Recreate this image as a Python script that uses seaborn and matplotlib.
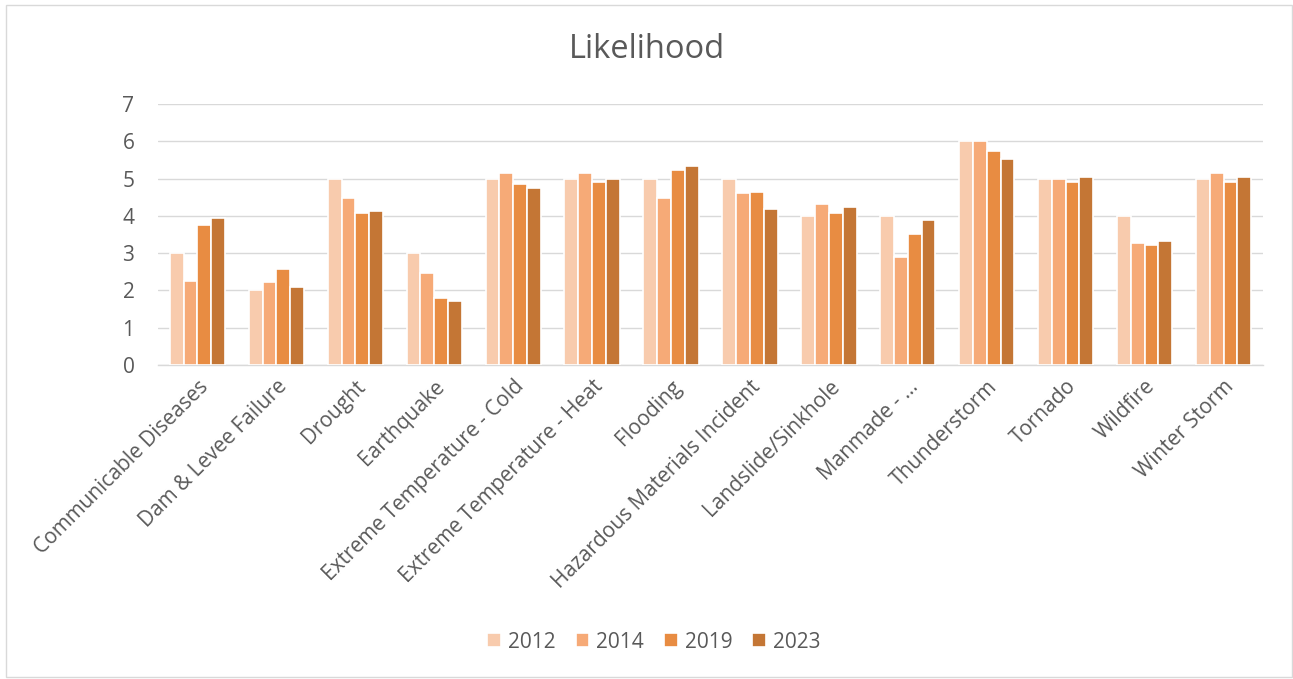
import matplotlib
matplotlib.use("Agg")
import matplotlib.pyplot as plt
import seaborn as sns
import pandas as pd
from matplotlib.patches import Rectangle

categories = ["Communicable Diseases", "Dam & Levee Failure", "Drought", "Earthquake",
              "Extreme Temperature - Cold", "Extreme Temperature - Heat", "Flooding",
              "Hazardous Materials Incident", "Landslide/Sinkhole", "Manmade - ...",
              "Thunderstorm", "Tornado", "Wildfire", "Winter Storm"]
years = ["2012", "2014", "2019", "2023"]
v2012 = [3.0, 2.0, 5.0, 3.0, 5.0, 5.0, 5.0, 5.0, 4.0, 4.0, 6.0, 5.0, 4.0, 5.0]
v2014 = [2.25, 2.23, 4.49, 2.48, 5.16, 5.16, 4.49, 4.62, 4.32, 2.90, 6.0, 5.0, 3.26, 5.16]
v2019 = [3.75, 2.57, 4.07, 1.79, 4.86, 4.92, 5.22, 4.63, 4.09, 3.51, 5.75, 4.90, 3.22, 4.92]
v2023 = [3.94, 2.08, 4.13, 1.71, 4.74, 4.98, 5.34, 4.18, 4.24, 3.89, 5.53, 5.03, 3.33, 5.03]
colors = ["#F8CBAD", "#F6AA77", "#E88C42", "#C47635"]

rows = []
for y, vals in zip(years, [v2012, v2014, v2019, v2023]):
    for c, v in zip(categories, vals):
        rows.append({"Hazard": c, "Year": y, "Value": v})
df = pd.DataFrame(rows)

sns.set_theme(style="white")
plt.rcParams["font.family"] = ["Open Sans", "DejaVu Sans"]
text_color = "#595959"
grid_color = "#D9D9D9"

fig = plt.figure(figsize=(12.93, 6.79), dpi=100)
ax = fig.add_axes([158 / 1293, 1 - 365 / 679, (1263 - 158) / 1293, (365 - 104) / 679])

sns.barplot(data=df, x="Hazard", y="Value", hue="Year", order=categories, hue_order=years,
            palette=colors, saturation=1, width=0.7, edgecolor="white", linewidth=1.2,
            ax=ax, zorder=3)

ax.set_ylim(0, 7)
ax.set_yticks(range(0, 8))
ax.set_xlim(-0.5, len(categories) - 0.5)
ax.yaxis.grid(True, color=grid_color, linewidth=1.0, zorder=0)
ax.set_axisbelow(True)
for s in ["top", "right", "left"]:
    ax.spines[s].set_visible(False)
ax.spines["bottom"].set_color(grid_color)
ax.spines["bottom"].set_linewidth(1.0)
ax.set_xlabel("")
ax.set_ylabel("")
ax.tick_params(axis="y", length=0, pad=17, labelsize=15, labelcolor=text_color)
ax.tick_params(axis="x", length=0, pad=8, labelsize=15, labelcolor=text_color)
for lab in ax.get_xticklabels():
    lab.set_rotation(45)
    lab.set_ha("right")
    lab.set_rotation_mode("anchor")

fig.text(0.5, 1 - 50 / 679, "Likelihood", ha="center", va="center", fontsize=23.5, color=text_color)

handles, labels = ax.get_legend_handles_labels()
if ax.legend_:
    ax.legend_.remove()
fig.legend(handles, labels, loc="center", bbox_to_anchor=(654 / 1293, 1 - 642 / 679), ncol=4,
           frameon=False, fontsize=15, labelcolor=text_color, handlelength=0.65, handleheight=0.65,
           handletextpad=0.35, columnspacing=0.95)

fig.patches.append(Rectangle((6 / 1293, 2 / 679), 1286 / 1293, 672 / 679, transform=fig.transFigure,
                             fill=False, edgecolor=grid_color, linewidth=1.0))

fig.savefig("out.png", dpi=100, facecolor="white")
